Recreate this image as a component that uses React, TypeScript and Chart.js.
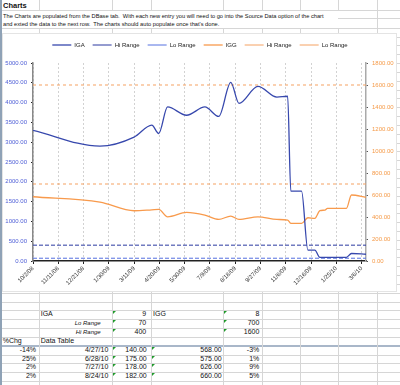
import React, { useEffect, useRef } from 'react';
import { Chart, registerables } from 'chart.js';
Chart.register(...registerables);

// ---------- data ----------
const sampleDates = ['10/2/08', '1/16/09', '3/11/09', '4/8/09', '4/19/09', '5/3/09', '6/2/09', '7/1/09', '7/23/09', '8/11/09', '8/24/09', '9/23/09', '10/23/09', '11/9/09', '11/14/09', '12/1/09', '12/11/09', '12/22/09', '12/30/09', '1/7/10', '1/11/10', '2/10/10', '2/18/10', '3/13/10'];
const igaValues = [3300, 2900, 3130, 3430, 3220, 3890, 3680, 3890, 3650, 4510, 3980, 4410, 4140, 4160, 1765, 1765, 277, 277, 93, 93, 93, 93, 190, 170];
const iggValues = [584, 535, 457, 465, 469, 402, 442, 417, 378, 408, 378, 402, 378, 372, 342, 342, 393, 387, 457, 463, 478, 478, 600, 578];
const igaLoRange = 70;
const igaHiRange = 400;
const iggLoRange = 700;
const iggHiRange = 1600;
const xTickLabels = ['10/2/08', '11/11/08', '12/21/08', '1/30/09', '3/11/09', '4/20/09', '5/30/09', '7/9/09', '8/18/09', '9/27/09', '11/6/09', '12/16/09', '1/25/10', '3/6/10'];
const leftTicks = [0, 500, 1000, 1500, 2000, 2500, 3000, 3500, 4000, 4500, 5000];
const rightTicks = [0, 200, 400, 600, 800, 1000, 1200, 1400, 1600, 1800];
const seriesLabels = ['IGA', 'Hi Range', 'Lo Range', 'IGG', 'Hi Range', 'Lo Range'];

const titleText = 'Charts';
const noteLines = [
  'The Charts are populated from the DBase tab.  With each new entry you will need to go into the Source Data option of the chart',
  "and exted the data to the next row.  The charts should auto populate once that's done.",
];
const igaCount = '9';
const iggCount = '8';
const rangeLabels = ['Lo Range', 'Hi Range'];
const igaRangeCells = ['70', '400'];
const iggRangeCells = ['700', '1600'];
const tableChg = ['-14%', '25%', '2%', '2%'];
const tableDates = ['4/27/10', '6/28/10', '7/27/10', '8/24/10'];
const tableIga = ['140.00', '175.00', '178.00', '182.00'];
const tableIgg = ['568.00', '575.00', '626.00', '660.00'];
const tableIggChg = ['-3%', '1%', '9%', '5%'];

// ---------- helpers ----------
const parseMDY = (s: string) => {
  const [m, d, y] = s.split('/').map(Number);
  return Date.UTC(2000 + y, m - 1, d);
};
const baseTime = parseMDY(sampleDates[0]);
const dayOf = (s: string) => Math.round((parseMDY(s) - baseTime) / 86400000);
const xMax = dayOf(sampleDates[sampleDates.length - 1]);
const labelByDay = new Map<number, string>(xTickLabels.map((l) => [dayOf(l), l]));

const FONT = '"Liberation Sans", Arial, sans-serif';

const COL_EDGES = [2, 39.3, 111.7, 150.7, 223.3, 261.7, 300, 338.3, 377.3, 400];
const ROW_TOP = 27.7;
const ROW_H = 8.833;
const rowY = (r: number) => ROW_TOP + r * ROW_H;

function Cell(props: { col: number; row: number; text: string; align?: 'left' | 'right'; pad?: number; italic?: boolean; size?: number }) {
  const { col, row, text, align = 'left', pad = 2, italic = false, size = 7 } = props;
  const left = COL_EDGES[col];
  const right = COL_EDGES[col + 1];
  const style: React.CSSProperties = {
    position: 'absolute',
    top: rowY(row),
    height: ROW_H,
    lineHeight: ROW_H + 'px',
    fontSize: size,
    fontStyle: italic ? 'italic' : 'normal',
    whiteSpace: 'nowrap',
    color: '#111',
  };
  if (align === 'left') style.left = left + pad;
  else style.right = 400 - right + pad;
  return <span style={style}>{text}</span>;
}

function Flag(props: { col: number; row: number }) {
  const x = Math.round(COL_EDGES[props.col]) + 1;
  const y = Math.round(rowY(props.row)) + 1;
  return (
    <div
      style={{
        position: 'absolute',
        left: x,
        top: y,
        width: 0,
        height: 0,
        borderTop: '3px solid #1f9a2a',
        borderRight: '3px solid transparent',
      }}
    />
  );
}

export default function App() {
  const ref = useRef<HTMLCanvasElement>(null);

  useEffect(() => {
    const igaPoints = sampleDates.map((d, i) => ({ x: dayOf(d), y: igaValues[i] }));
    const iggPoints = sampleDates.map((d, i) => ({ x: dayOf(d), y: iggValues[i] }));
    const flat = (v: number) => [
      { x: 0, y: v },
      { x: xMax, y: v },
    ];
    const chart = new Chart(ref.current as HTMLCanvasElement, {
      type: 'line',
      data: {
        datasets: [
          { label: seriesLabels[0], data: igaPoints, yAxisID: 'y', borderColor: '#3748ad', backgroundColor: '#3748ad', borderWidth: 1.3, cubicInterpolationMode: 'monotone', pointRadius: 0, fill: false },
          { label: seriesLabels[1], data: flat(igaHiRange), yAxisID: 'y', borderColor: '#2a39a0', backgroundColor: '#2a39a0', borderWidth: 1, borderDash: [4, 2], pointRadius: 0, fill: false },
          { label: seriesLabels[2], data: flat(igaLoRange), yAxisID: 'y', borderColor: '#5570e0', backgroundColor: '#5570e0', borderWidth: 1, borderDash: [4, 2], pointRadius: 0, fill: false },
          { label: seriesLabels[3], data: iggPoints, yAxisID: 'y1', borderColor: '#f89a4c', backgroundColor: '#f89a4c', borderWidth: 1.3, cubicInterpolationMode: 'monotone', pointRadius: 0, fill: false },
          { label: seriesLabels[4], data: flat(iggHiRange), yAxisID: 'y1', borderColor: '#f5a262', backgroundColor: '#f5a262', borderWidth: 1, borderDash: [3, 3], pointRadius: 0, fill: false },
          { label: seriesLabels[5], data: flat(iggLoRange), yAxisID: 'y1', borderColor: '#f5a262', backgroundColor: '#f5a262', borderWidth: 1, borderDash: [3, 3], pointRadius: 0, fill: false },
        ],
      },
      options: {
        responsive: false,
        animation: false,
        devicePixelRatio: 1,
        layout: { padding: { top: 1, left: 0, right: 0, bottom: 0 } },
        plugins: {
          legend: {
            display: true,
            position: 'top',
            labels: {
              usePointStyle: true,
              pointStyle: 'line',
              pointStyleWidth: 19,
              padding: 8,
              color: '#222',
              font: { size: 6, family: FONT },
            },
          },
          title: {
            display: true,
            text: '',
            position: 'top',
            weight: 999,
            font: { size: 1, lineHeight: 1 },
            padding: { top: 4, bottom: 0 },
          },
          tooltip: { enabled: false },
        },
        scales: {
          x: {
            type: 'linear',
            min: 0,
            max: xMax,
            afterBuildTicks: (s: any) => {
              s.ticks = xTickLabels.map((l) => ({ value: dayOf(l) }));
            },
            afterFit: (s: any) => {
              s.height = 31;
            },
            ticks: {
              autoSkip: false,
              minRotation: 45,
              maxRotation: 45,
              padding: 1,
              color: '#333',
              font: { size: 6, family: FONT },
              callback: (v: any) => labelByDay.get(Number(v)) ?? '',
            },
            grid: { display: true, color: '#d2d2d2', lineWidth: 1, tickColor: '#222', tickLength: 3, drawTicks: true, drawOnChartArea: true },
            border: { display: true, color: '#222', width: 1.5, dash: [2, 2] },
          },
          y: {
            type: 'linear',
            position: 'left',
            min: 0,
            max: 5000,
            afterBuildTicks: (s: any) => {
              s.ticks = leftTicks.map((v) => ({ value: v }));
            },
            afterFit: (s: any) => {
              s.width = 33;
            },
            ticks: {
              padding: 4,
              color: '#4d5dd6',
              font: { size: 6, family: FONT },
              callback: (v: any) => Number(v).toFixed(2),
            },
            grid: { drawOnChartArea: false, drawTicks: true, tickLength: 2, color: '#222' },
            border: { display: true, color: '#888', width: 1.5 },
          },
          y1: {
            type: 'linear',
            position: 'right',
            min: 0,
            max: 1800,
            afterBuildTicks: (s: any) => {
              s.ticks = rightTicks.map((v) => ({ value: v }));
            },
            afterFit: (s: any) => {
              s.width = 34;
            },
            ticks: {
              padding: 4,
              color: '#f59a48',
              font: { size: 6, family: FONT },
              callback: (v: any) => Number(v).toFixed(2),
            },
            grid: { drawOnChartArea: false, drawTicks: true, tickLength: 2, color: '#555' },
            border: { display: true, color: '#aaa', width: 1.5 },
          },
        },
      } as any,
    });
    return () => chart.destroy();
  }, []);

  const hLines: React.ReactNode[] = [];
  for (let k = 0; k < 45; k++) {
    const y = Math.round(rowY(k));
    if (y > 385) break;
    const isFreeze = k === 36;
    hLines.push(
      <div
        key={'h' + k}
        style={{ position: 'absolute', left: 2, top: isFreeze ? y - 1 : y, width: 398, height: isFreeze ? 2 : 1, background: isFreeze ? '#a9b7c9' : '#d6d6d6' }}
      />
    );
  }
  const vLines: React.ReactNode[] = [];
  COL_EDGES.slice(1, -1).forEach((x, i) => {
    const xx = Math.round(x);
    vLines.push(<div key={'v' + i} style={{ position: 'absolute', left: xx, top: 0, width: 1, height: 10, background: '#d6d6d6' }} />);
    vLines.push(<div key={'w' + i} style={{ position: 'absolute', left: xx, top: Math.round(ROW_TOP), width: 1, height: 385 - Math.round(ROW_TOP), background: '#d6d6d6' }} />);
  });

  return (
    <div style={{ position: 'fixed', left: 0, top: 0, width: 400, height: 385, background: '#fff', overflow: 'hidden', fontFamily: FONT, color: '#111' }}>
      {hLines}
      {vLines}
      <div style={{ position: 'absolute', left: 2, top: 10, width: 398, height: 1, background: '#d6d6d6' }} />
      <div style={{ position: 'absolute', left: 338, top: 18, width: 62, height: 1, background: '#d6d6d6' }} />
      <div style={{ position: 'absolute', left: 377, top: 10, width: 1, height: 18, background: '#d6d6d6' }} />
      <div style={{ position: 'absolute', left: 0, top: 0, width: 2, height: 385, background: '#8fa2b6' }} />

      <div style={{ position: 'absolute', left: 3, top: 1, fontSize: 7.5, fontWeight: 'bold', lineHeight: '9px', whiteSpace: 'nowrap' }}>{titleText}</div>
      <div style={{ position: 'absolute', left: 3, top: 11.5, fontSize: 5.7, lineHeight: '8.3px', whiteSpace: 'pre' }}>
        {noteLines.map((l, i) => (
          <div key={i}>{l}</div>
        ))}
      </div>

      <div style={{ position: 'absolute', left: 2, top: 33, width: 395, height: 259, background: '#fff', boxSizing: 'border-box', border: '1px solid #e4e4e4' }} />
      <canvas ref={ref} width={400} height={259} style={{ position: 'absolute', left: 0, top: 33, width: 400, height: 259 }} />

      <Cell col={1} row={32} text="IGA" pad={1.4} />
      <Cell col={2} row={32} text={igaCount} align="right" pad={4.5} />
      <Cell col={3} row={32} text="IGG" pad={2.3} />
      <Cell col={4} row={32} text={iggCount} align="right" pad={2.4} />
      {rangeLabels.map((l, i) => (
        <React.Fragment key={'r' + i}>
          <Cell col={1} row={33 + i} text={l} align="right" pad={11} italic size={6} />
          <Cell col={2} row={33 + i} text={igaRangeCells[i]} align="right" pad={4.5} />
          <Cell col={4} row={33 + i} text={iggRangeCells[i]} align="right" pad={2.4} />
        </React.Fragment>
      ))}
      <Flag col={2} row={32} />
      <Flag col={2} row={33} />
      <Flag col={2} row={34} />
      <Flag col={4} row={32} />
      <Flag col={4} row={33} />
      <Flag col={4} row={34} />
      <Cell col={0} row={35} text="%Chg" pad={0.7} />
      <Cell col={1} row={35} text="Data Table" pad={1.4} />
      {tableDates.map((d, i) => (
        <React.Fragment key={'t' + i}>
          <Cell col={0} row={36 + i} text={tableChg[i]} align="right" pad={3.3} />
          <Cell col={1} row={36 + i} text={d} align="right" pad={3.4} />
          <Cell col={2} row={36 + i} text={tableIga[i]} align="right" pad={4} />
          <Cell col={3} row={36 + i} text={tableIgg[i]} align="right" pad={1.6} />
          <Cell col={4} row={36 + i} text={tableIggChg[i]} align="right" pad={2.4} />
          <Flag col={2} row={36 + i} />
          <Flag col={3} row={36 + i} />
        </React.Fragment>
      ))}
    </div>
  );
}
